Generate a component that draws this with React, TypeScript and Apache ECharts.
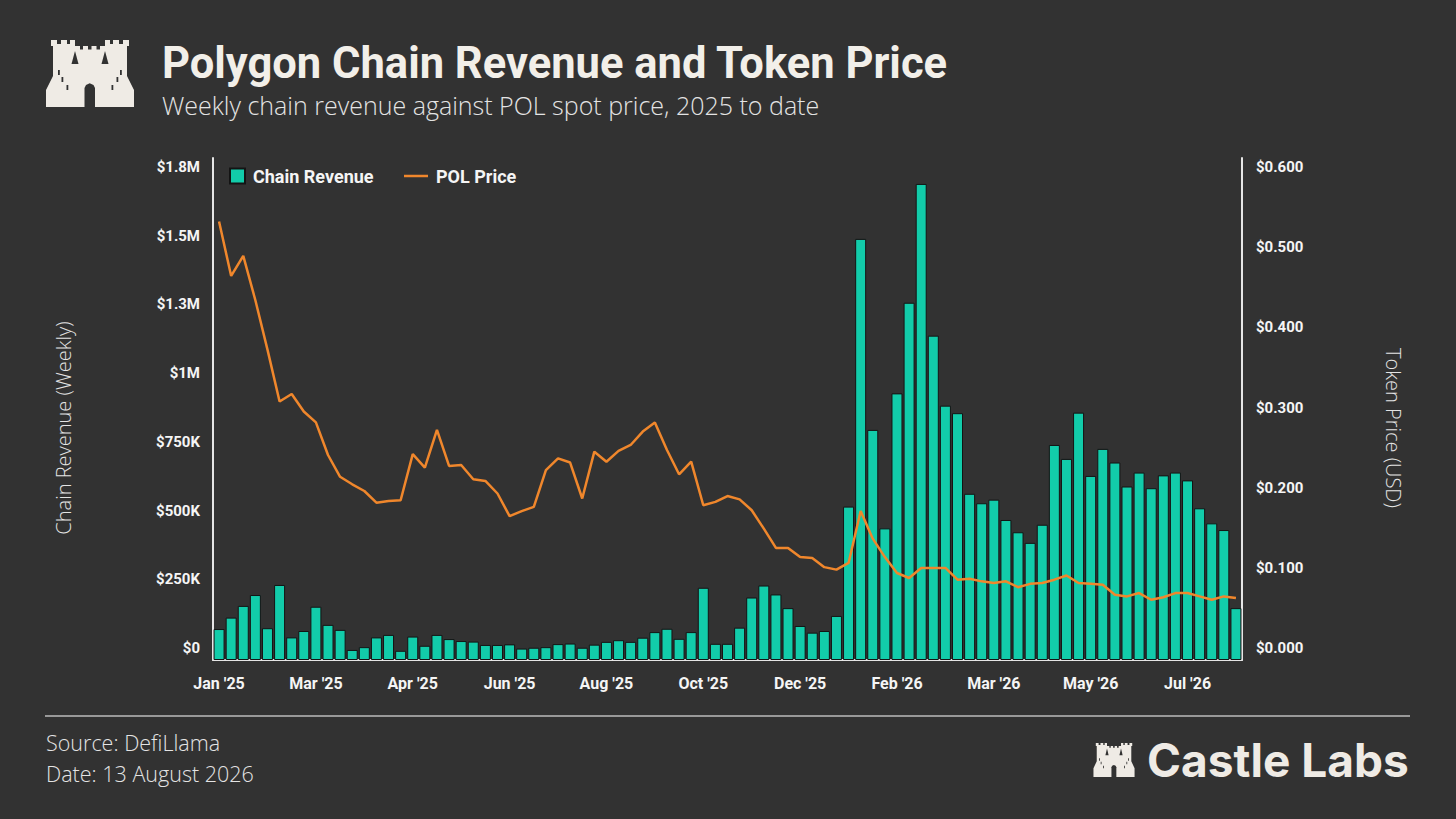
import React, { useEffect, useRef } from "react";
import * as echarts from "echarts";

// ---- Data ----
const revenue = [
  111000, 152000, 194000, 233000, 114000, 269000, 81000, 104000, 191000, 126000,
  108000, 36000, 46000, 81000, 90000, 33000, 84000, 51000, 90000, 75000,
  68000, 66000, 54000, 54000, 56000, 41000, 44000, 46000, 57000, 59000,
  44000, 55000, 65000, 71000, 65000, 80000, 100000, 112000, 76000, 100000,
  259000, 58000, 58000, 116000, 224000, 267000, 235000, 186000, 122000, 98000,
  104000, 158000, 550000, 1510000, 825000, 472000, 956000, 1281000, 1707000, 1163000,
  912000, 885000, 596000, 562000, 575000, 502000, 458000, 420000, 485000, 771000,
  721000, 887000, 660000, 757000, 708000, 622000, 672000, 616000, 662000, 672000,
  644000, 544000, 490000, 466000, 186000,
];

const polPrice = [
  0.524, 0.459, 0.483, 0.43, 0.371, 0.309, 0.318, 0.297, 0.284, 0.245,
  0.219, 0.21, 0.202, 0.188, 0.19, 0.191, 0.246, 0.23, 0.275, 0.232,
  0.233, 0.216, 0.214, 0.199, 0.172, 0.178, 0.183, 0.227, 0.241, 0.236,
  0.193, 0.249, 0.237, 0.25, 0.257, 0.273, 0.284, 0.251, 0.222, 0.237,
  0.185, 0.189, 0.196, 0.192, 0.179, 0.157, 0.134, 0.134, 0.123, 0.122,
  0.111, 0.108, 0.116, 0.178, 0.145, 0.123, 0.104, 0.098, 0.11, 0.11,
  0.11, 0.096, 0.097, 0.094, 0.092, 0.094, 0.087, 0.091, 0.092, 0.096,
  0.101, 0.092, 0.091, 0.09, 0.078, 0.076, 0.08, 0.072, 0.075, 0.08,
  0.08, 0.076, 0.072, 0.076, 0.074,
];

const xTickLabels = [
  "Jan '25", "Mar '25", "Apr '25", "Jun '25", "Aug '25", "Oct '25",
  "Dec '25", "Feb '26", "Mar '26", "May '26", "Jul '26",
];
const leftTickLabels = ["$0", "$250K", "$500K", "$750K", "$1M", "$1.3M", "$1.5M", "$1.8M"];
const rightTickLabels = ["$0.000", "$0.100", "$0.200", "$0.300", "$0.400", "$0.500", "$0.600"];

const weeks = revenue.map((_, i) => {
  const d = new Date(Date.UTC(2025, 0, 6 + 7 * i));
  return d.toISOString().slice(0, 10);
});

const BG = "#323232";
const LIGHT = "#efebe5";
const TEAL = "#12ccaa";
const ORANGE = "#f0872c";
const AXIS = "#e6e6e6";

function castle(x: number, y: number, sx: number, sy: number) {
  const silhouette = [
    [1, 67], [1, 50], [8, 36], [8, 6], [6, 6], [6, 0], [12, 0], [12, 4], [16, 4], [16, 0],
    [22, 0], [22, 4], [25, 4], [25, 0], [30, 0], [30, 6], [35, 6], [35, 9.5], [38, 9.5], [38, 6],
    [43, 6], [43, 9.5], [46.5, 9.5], [46.5, 6], [51.5, 6], [51.5, 9.5], [55, 9.5], [55, 6], [60, 6],
    [60, 0], [65, 0], [65, 4], [68, 4], [68, 0], [74, 0], [74, 4], [78, 4], [78, 0], [84, 0],
    [84, 6], [82, 6], [82, 36], [89, 50], [89, 67],
  ];
  const door = [
    [39.5, 67], [39.5, 48], [41, 45], [44.7, 43.3], [48.5, 45], [50, 48], [50, 67],
  ];
  const windows = [
    [13, 30], [16.5, 37], [21.5, 45], [75, 30], [71.5, 37], [66.5, 45],
  ];
  return {
    type: "group",
    x,
    y,
    scaleX: sx,
    scaleY: sy,
    silent: true,
    children: [
      { type: "polygon", shape: { points: silhouette }, style: { fill: LIGHT } },
      { type: "polygon", shape: { points: [[30, 11], [26.5, 24], [33.5, 24]] }, style: { fill: BG } },
      { type: "polygon", shape: { points: [[60, 11], [56.5, 24], [63.5, 24]] }, style: { fill: BG } },
      { type: "polygon", shape: { points: door }, style: { fill: BG } },
      ...windows.map(([wx, wy]) => ({
        type: "rect",
        shape: { x: wx, y: wy, width: 1.8, height: 5 },
        style: { fill: BG },
      })),
    ],
  };
}

export default function App() {
  const ref = useRef<HTMLDivElement>(null);

  useEffect(() => {
    if (!ref.current) return;
    const chart = echarts.init(ref.current, null, { renderer: "svg" });

    const labelFont = {
      color: "#f5f5f5",
      fontFamily: "Roboto",
      fontWeight: "bold" as const,
      fontSize: 15,
    };
    const lightText = {
      fill: "#e4e4e4",
      fontFamily: "Open Sans",
      fontWeight: 300,
    };

    const option: any = {
      animation: false,
      backgroundColor: BG,
      grid: { left: 213, right: 214, top: 158, bottom: 159, containLabel: false },
      legend: [
        {
          data: [{ name: "Chain Revenue", icon: "rect" }],
          left: 229,
          top: 167,
          itemWidth: 15,
          itemHeight: 15,
          padding: 0,
          textStyle: { ...labelFont, fontSize: 18, padding: [0, 0, 0, 3] },
        },
        {
          data: [{ name: "POL Price", icon: "rect" }],
          left: 404,
          top: 167,
          itemWidth: 24,
          itemHeight: 2.5,
          padding: 0,
          textStyle: { ...labelFont, fontSize: 18, padding: [0, 0, 0, 3] },
        },
      ],
      xAxis: {
        type: "category",
        data: weeks,
        boundaryGap: true,
        axisLine: { show: true, lineStyle: { color: AXIS, width: 2 } },
        axisTick: { show: false },
        splitLine: { show: false },
        axisLabel: {
          ...labelFont,
          fontSize: 16,
          interval: 7,
          margin: 15,
          formatter: (_v: string, i: number) => xTickLabels[Math.round(i / 8)] ?? "",
        },
      },
      yAxis: [
        {
          type: "value",
          min: 0,
          max: 1800000,
          position: "left",
          axisLine: { show: true, lineStyle: { color: AXIS, width: 2 } },
          axisTick: { show: false },
          axisLabel: { show: false },
          splitLine: { show: false },
        },
        {
          type: "value",
          min: 0,
          max: 0.6,
          position: "right",
          axisLine: { show: true, lineStyle: { color: AXIS, width: 2 } },
          axisTick: { show: false },
          axisLabel: { show: false },
          splitLine: { show: false },
        },
        {
          type: "value",
          min: -12 / (481 / 7),
          max: 7 + 9 / (481 / 7),
          position: "left",
          axisLine: { show: false },
          axisTick: { show: false },
          splitLine: { show: false },
          axisLabel: {
            ...labelFont,
            margin: 13,
            customValues: [0, 1, 2, 3, 4, 5, 6, 7],
            formatter: (v: number) => leftTickLabels[Math.round(v)] ?? "",
          },
        },
        {
          type: "value",
          min: -12 / (481 / 6),
          max: 6 + 9 / (481 / 6),
          position: "right",
          axisLine: { show: false },
          axisTick: { show: false },
          splitLine: { show: false },
          axisLabel: {
            ...labelFont,
            margin: 14,
            customValues: [0, 1, 2, 3, 4, 5, 6],
            formatter: (v: number) => rightTickLabels[Math.round(v)] ?? "",
          },
        },
      ],
      series: [
        {
          name: "Chain Revenue",
          type: "bar",
          yAxisIndex: 0,
          data: revenue,
          barWidth: 11,
          itemStyle: { color: TEAL, borderColor: "#141414", borderWidth: 1 },
        },
        {
          name: "POL Price",
          type: "line",
          yAxisIndex: 1,
          data: polPrice,
          symbol: "none",
          showSymbol: false,
          z: 5,
          lineStyle: { color: ORANGE, width: 2.5 },
          itemStyle: { color: ORANGE },
        },
      ],
      graphic: [
        castle(45, 40, 1, 1),
        {
          type: "text",
          x: 162,
          y: 63,
          silent: true,
          style: {
            text: "Polygon Chain Revenue and Token Price",
            fill: "#f2efe9",
            fontFamily: "Roboto",
            fontWeight: "bold",
            fontSize: 43.5,
            verticalAlign: "middle",
          },
        },
        {
          type: "text",
          x: 162,
          y: 105,
          silent: true,
          style: {
            ...lightText,
            text: "Weekly chain revenue against POL spot price, 2025 to date",
            fontSize: 25,
            verticalAlign: "middle",
          },
        },
        {
          type: "text",
          x: 63,
          y: 428,
          rotation: Math.PI / 2,
          silent: true,
          style: {
            ...lightText,
            text: "Chain Revenue (Weekly)",
            fontSize: 20,
            align: "center",
            verticalAlign: "middle",
          },
        },
        {
          type: "text",
          x: 1393,
          y: 428,
          rotation: -Math.PI / 2,
          silent: true,
          style: {
            ...lightText,
            text: "Token Price (USD)",
            fontSize: 20,
            align: "center",
            verticalAlign: "middle",
          },
        },
        {
          type: "line",
          silent: true,
          shape: { x1: 45, y1: 716, x2: 1410, y2: 716 },
          style: { stroke: "#bdbdbd", lineWidth: 1.5 },
        },
        {
          type: "text",
          x: 46,
          y: 742,
          silent: true,
          style: {
            ...lightText,
            text: "Source: DefiLlama",
            fontSize: 21.5,
            verticalAlign: "middle",
          },
        },
        {
          type: "text",
          x: 46,
          y: 773,
          silent: true,
          style: {
            ...lightText,
            text: "Date: 13 August 2026",
            fontSize: 21.5,
            verticalAlign: "middle",
          },
        },
        castle(1093, 743, 42 / 90, 34 / 67),
        {
          type: "text",
          x: 1147,
          y: 760,
          silent: true,
          style: {
            text: "Castle Labs",
            fill: LIGHT,
            fontFamily: "Inter",
            fontWeight: "bold",
            fontSize: 46,
            verticalAlign: "middle",
          },
        },
      ],
    };

    chart.setOption(option);
    return () => {
      chart.dispose();
    };
  }, []);

  return (
    <div
      ref={ref}
      style={{ position: "fixed", left: 0, top: 0, width: 1456, height: 819, background: BG }}
    />
  );
}
